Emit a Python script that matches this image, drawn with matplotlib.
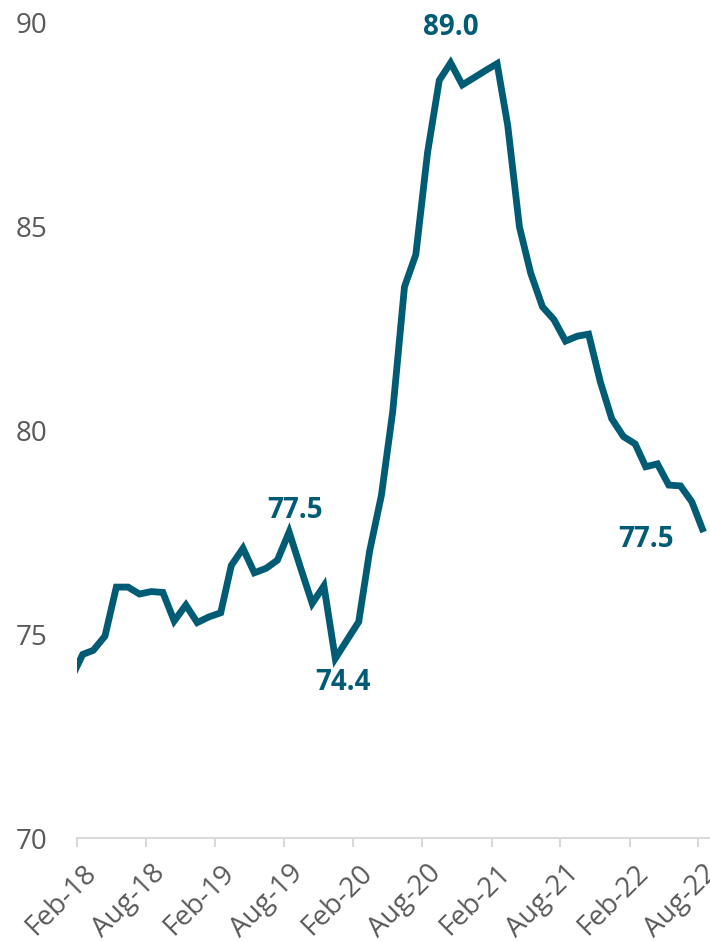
import matplotlib
matplotlib.use("Agg")
import matplotlib.pyplot as plt
import matplotlib.dates as mdates
import matplotlib.transforms as mtransforms
import pandas as pd

# monthly index, Jan-18 .. Aug-22 (plotted mid-month, axis clipped at Feb-18)
months = pd.date_range("2018-01-01", "2022-08-01", freq="MS") + pd.Timedelta(days=14)
values = [73.9, 74.5, 74.6, 74.95, 76.15, 76.15, 75.98, 76.04, 76.02, 75.32,
          75.71, 75.28, 75.42, 75.52, 76.68, 77.1, 76.5, 76.61, 76.81, 77.5,
          76.6, 75.75, 76.18, 74.4, 74.85, 75.3, 77.04, 78.4, 80.46, 83.51,
          84.3, 86.8, 88.57, 89.0, 88.46, 88.63, 88.81, 88.98, 87.47, 84.98,
          83.84, 83.02, 82.71, 82.18, 82.3, 82.35, 81.18, 80.28, 79.84, 79.66,
          79.1, 79.17, 78.65, 78.63, 78.24, 77.5]

# labelled points: (month, text, offset in pixels)
label_months = ["2019-08", "2019-12", "2020-10", "2022-08"]
label_texts = ["77.5", "74.4", "89.0", "77.5"]
label_offsets = [(6, 22), (8, -24), (0, 35), (-58, -7)]

teal = "#005C74"
grey = "#595959"
plt.rcParams["font.family"] = ["Open Sans", "DejaVu Sans"]

fig = plt.figure(figsize=(7.1, 9.42), dpi=100)
ax = fig.add_axes([0.109, 0.1104, 0.891, 0.8662])

ax.plot(months, values, color=teal, lw=4.9, solid_joinstyle="miter",
        solid_capstyle="butt")

s = pd.Series(values, index=months.to_period("M").astype(str))
for m, t, (dx, dy) in zip(label_months, label_texts, label_offsets):
    ax.annotate(t, xy=(months[list(s.index).index(m)], s[m]), xytext=(dx, dy),
                textcoords="offset pixels", ha="center", va="center",
                color=teal, fontsize=20, fontweight="bold")

ax.set_xlim(pd.Timestamp("2018-02-01"), pd.Timestamp("2022-09-01"))
ax.set_ylim(70, 90)
ax.set_yticks([70, 75, 80, 85, 90])
ax.xaxis.set_major_locator(mdates.MonthLocator(bymonth=[2, 8]))
ax.xaxis.set_major_formatter(mdates.DateFormatter("%b-%y"))

for side in ["left", "right", "top"]:
    ax.spines[side].set_visible(False)
ax.spines["bottom"].set_color("#D9D9D9")
ax.spines["bottom"].set_linewidth(1.5)

ax.tick_params(axis="y", length=0, pad=21.5, labelsize=20, labelcolor=grey)
ax.tick_params(axis="x", length=6.5, width=1.5, color="#D9D9D9", pad=8.5,
               labelsize=20, labelcolor=grey)
shift = mtransforms.ScaledTranslation(5 / 100, 0, fig.dpi_scale_trans)
for lab in ax.get_xticklabels():
    lab.set_rotation(45)
    lab.set_ha("right")
    lab.set_rotation_mode("anchor")
    lab.set_transform(lab.get_transform() + shift)

fig.savefig("out.png", dpi=100)
